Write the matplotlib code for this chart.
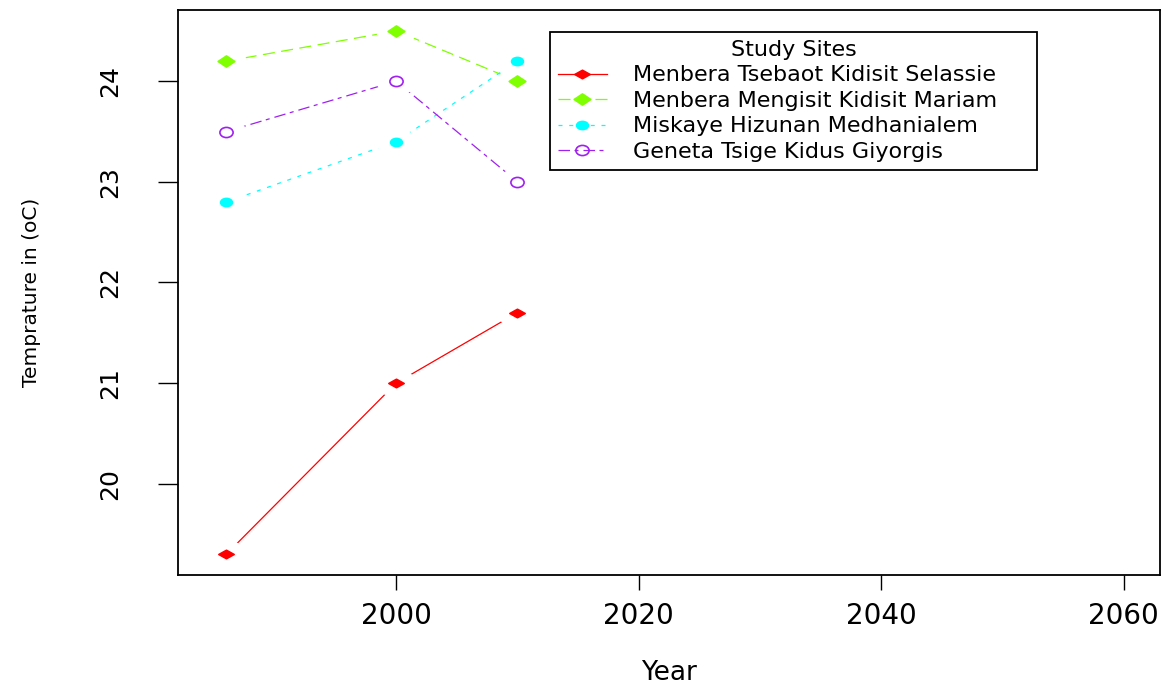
import numpy as np
import matplotlib.pyplot as plt
from matplotlib.path import Path
from matplotlib.transforms import Affine2D

plt.rcParams['font.family'] = ['DejaVu Sans']

# ---- DATA ----
years = [1986, 2000, 2010]
sites = ["Menbera Tsebaot Kidisit Selassie",
         "Menbera Mengisit Kidisit Mariam",
         "Miskaye Hizunan Medhanialem",
         "Geneta Tsige Kidus Giyorgis"]
temp_selassie = [19.3, 21.0, 21.7]
temp_mariam = [24.2, 24.5, 24.0]
temp_medhanialem = [22.8, 23.4, 24.2]
temp_giyorgis = [23.5, 24.0, 23.0]
x_range = (1985, 2060)
x_ticks = [2000, 2020, 2040, 2060]
y_ticks = [20, 21, 22, 23, 24]

# ---- MARKERS (slightly wide, like the original device) ----
def wide(path, sx):
    return path.transformed(Affine2D().scale(sx, 1.0))

unit_diamond = Path([(0, 1), (1, 0), (0, -1), (-1, 0), (0, 1)],
                    [Path.MOVETO, Path.LINETO, Path.LINETO, Path.LINETO, Path.CLOSEPOLY])
diamond_small = wide(unit_diamond, 1.8)
diamond = wide(unit_diamond, 1.5)
dot = wide(Path.unit_circle(), 1.45)
ring = wide(Path.unit_circle(), 1.3)
halo = wide(Path.unit_circle(), 1.45)

series = [
    (temp_selassie, '#FF0000', None, diamond_small, 11, True),
    (temp_mariam, '#7FFF00', (9.6, 5.2), diamond, 12, True),
    (temp_medhanialem, '#00FFFF', (3.2, 5.4), dot, 8.5, True),
    (temp_giyorgis, '#A020F0', (9.2, 3.6, 3.2, 4.0), ring, 9.5, False),
]

fig = plt.figure(figsize=(11.62, 6.88), dpi=100)
ax = fig.add_axes([178 / 1162, 1 - 575 / 688, 982 / 1162, 565 / 688])

for (vals, col, dash, mk, ms, filled), name in zip(series, sites):
    line, = ax.plot(years, vals, color=col, lw=0.9, marker=mk, ms=ms,
                    mfc=col if filled else 'none', mec=col, mew=1.2,
                    label=name, zorder=2)
    if dash is not None:
        line.set_dashes(dash)
    # white gap around each point, then the point on top (type="b" look)
    ax.plot(years, vals, ls='none', marker=halo, ms=29, mfc='white', mec='none',
            zorder=2.5, label='_nolegend_')
    ax.plot(years, vals, ls='none', marker=mk, ms=ms,
            mfc=col if filled else 'none', mec=col, mew=1.2,
            zorder=3, label='_nolegend_')

all_t = temp_selassie + temp_mariam + temp_medhanialem + temp_giyorgis
xpad = 0.04 * (x_range[1] - x_range[0])
ypad = 0.04 * (max(all_t) - min(all_t))
ax.set_xlim(x_range[0] - xpad, x_range[1] + xpad)
ax.set_ylim(min(all_t) - ypad, max(all_t) + ypad)

ax.set_xticks(x_ticks)
ax.set_yticks(y_ticks)
ax.tick_params(axis='x', length=10.8, width=1, pad=9, labelsize=20, colors='black')
ax.tick_params(axis='y', length=14.4, width=1, pad=26, labelsize=18, colors='black')
plt.setp(ax.get_yticklabels(), rotation=90, va='center')
for s in ax.spines.values():
    s.set_linewidth(1.3)

ax.set_xlabel("Year", fontsize=19, va='center')
ax.xaxis.set_label_coords(0.5, (575 - 673) / 565)
ax.set_ylabel("Temprature in (oC)", fontsize=14.5, va='center')
ax.yaxis.set_label_coords((32 - 178) / 982, 0.5)

leg = ax.legend(title="Study Sites", loc='upper left',
                bbox_to_anchor=((550 - 178) / 982, 0.5, 487 / 982, (575 - 32) / 565 - 0.5),
                mode='expand', borderaxespad=0, borderpad=0.35, labelspacing=0.25,
                handlelength=2.2, handletextpad=1.2, fontsize=16, title_fontsize=16,
                fancybox=False, framealpha=1, edgecolor='black')
leg.get_frame().set_linewidth(1.3)

fig.savefig("out.png", dpi=100)
